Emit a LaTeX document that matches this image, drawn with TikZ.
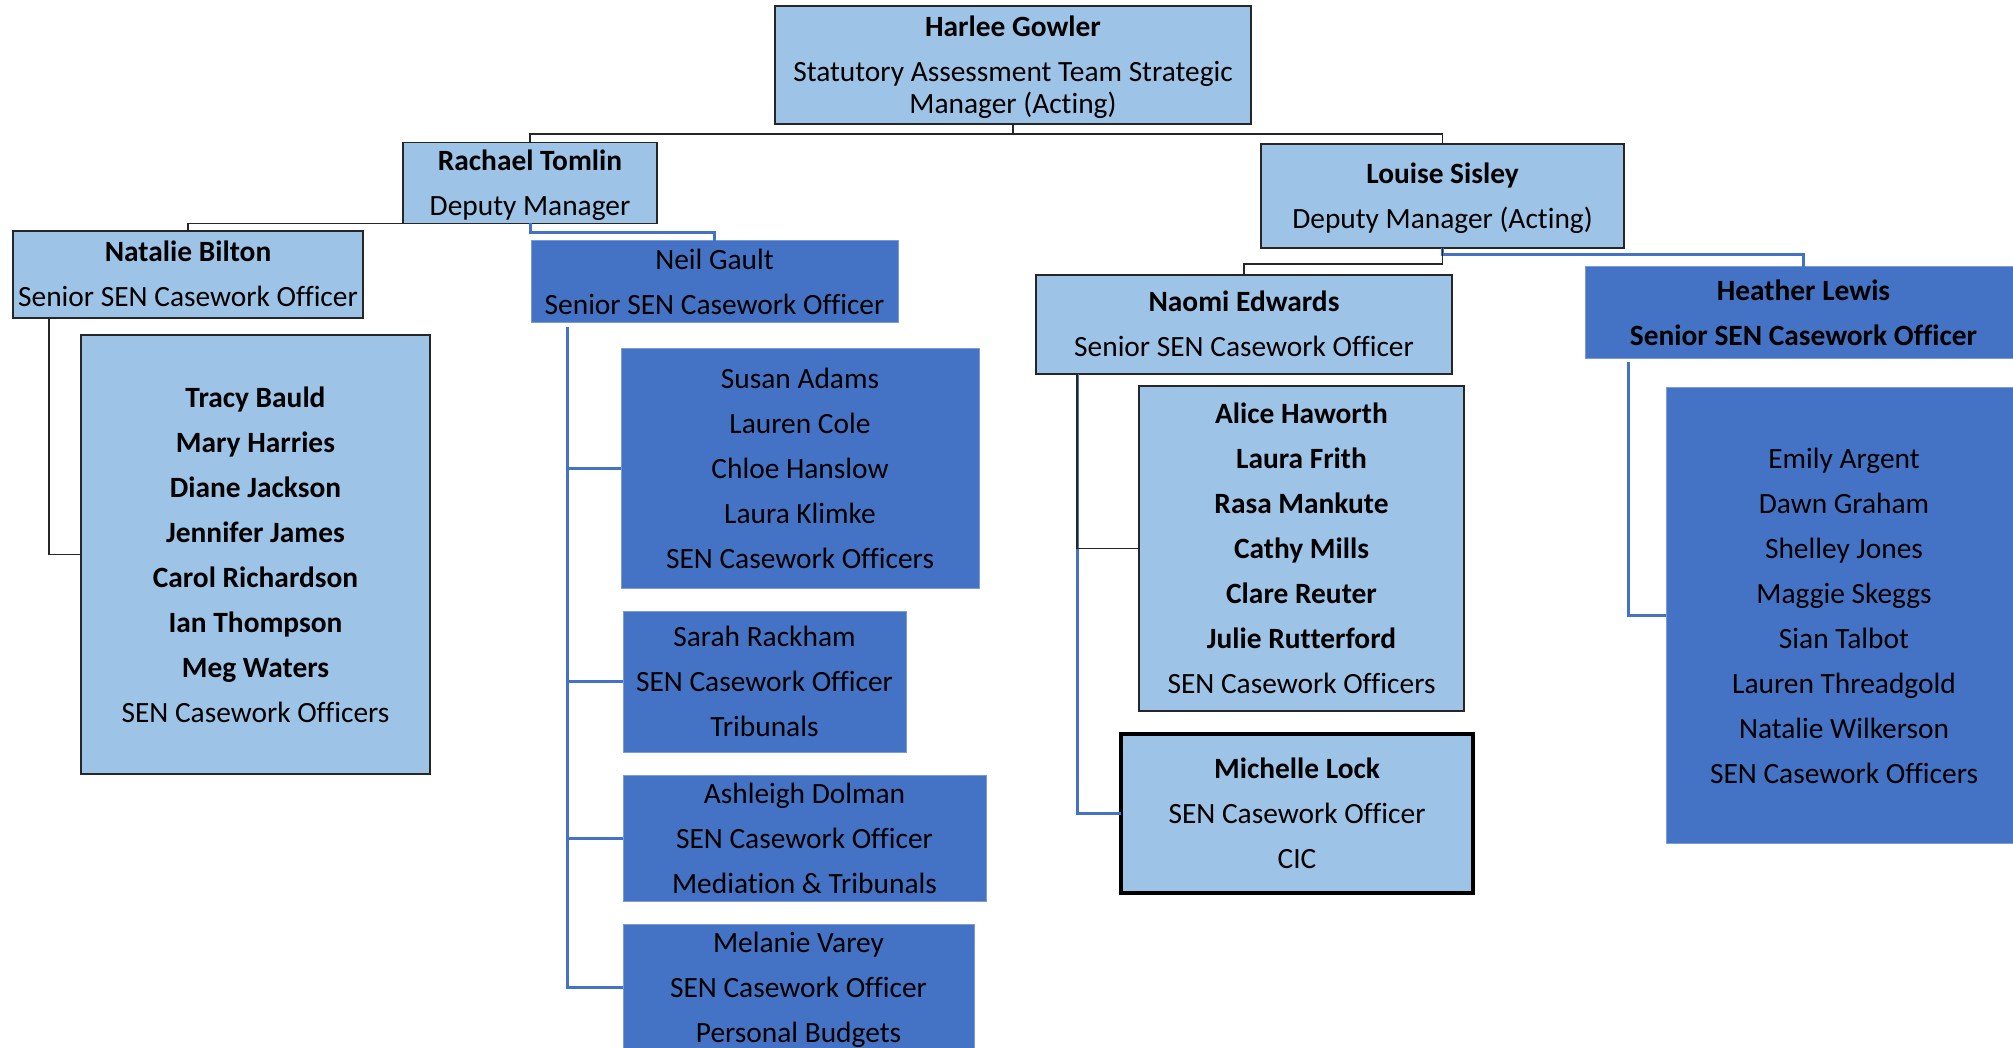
\documentclass[tikz,border=0pt]{standalone}
\usepackage{fontspec}
\setmainfont[Ligatures=NoCommon]{Carlito}
\usetikzlibrary{calc}
\definecolor{lightbox}{HTML}{9DC3E6}
\definecolor{darkbox}{HTML}{4472C4}
\definecolor{darkedge}{HTML}{7A9BD8}
\definecolor{lineblack}{HTML}{262626}
\newcommand{\ls}{\rule[-8pt]{0pt}{36pt}}
\tikzset{
  every node/.style={inner sep=0pt, outer sep=0pt, align=center, font=\fontsize{29.4}{45}\selectfont},
  lightnode/.style={fill=lightbox, draw=lineblack, line width=1.6pt},
  darknode/.style={fill=darkbox, draw=darkedge, line width=1pt},
  thicknode/.style={fill=lightbox, draw=black, line width=3.5pt},
  blackconn/.style={draw=lineblack, line width=1.8pt},
  blueconn/.style={draw=darkbox, line width=3pt},
}
\begin{document}
\begin{tikzpicture}[x=1pt, y=-1pt]
\clip (0,0) rectangle (2013,1048);
\fill[white] (0,0) rectangle (2013,1048);

% top level
\node[lightnode, minimum width=476, minimum height=118] (harlee) at (1013,65)
  {\ls\textbf{Harlee Gowler}\\\ls Statutory Assessment Team Strategic\\[-13pt]\ls Manager (Acting)};

% deputies
\node[lightnode, minimum width=254, minimum height=74] (rachael) at (530,183)
  {\ls\textbf{Rachael Tomlin}\\\ls Deputy Manager};
\node[lightnode, minimum width=363, minimum height=104] (louise) at (1442.5,196)
  {\ls\textbf{Louise Sisley}\\\ls Deputy Manager (Acting)};

% seniors
\node[lightnode, minimum width=350, minimum height=87] (natalie) at (188,274.5)
  {\ls\textbf{Natalie Bilton}\\\ls Senior SEN Casework Officer};
\node[darknode, minimum width=367, minimum height=82] (neil) at (714.5,282)
  {\ls Neil Gault\\\ls Senior SEN Casework Officer};
\node[lightnode, minimum width=416, minimum height=99] (naomi) at (1244,324.5)
  {\ls\textbf{Naomi Edwards}\\\ls Senior SEN Casework Officer};
\node[darknode, minimum width=437, minimum height=92] (heather) at (1803.5,313)
  {\ls\textbf{Heather Lewis}\\\ls\textbf{Senior SEN Casework Officer}};

% teams
\node[lightnode, minimum width=349, minimum height=439] (natteam) at (255.5,554.5)
  {\ls\textbf{Tracy Bauld}\\\ls\textbf{Mary Harries}\\\ls\textbf{Diane Jackson}\\\ls\textbf{Jennifer James}\\\ls\textbf{Carol Richardson}\\\ls\textbf{Ian Thompson}\\\ls\textbf{Meg Waters}\\\ls SEN Casework Officers};

\node[darknode, minimum width=358, minimum height=239] (susan) at (800,468.5)
  {\ls Susan Adams\\\ls Lauren Cole\\\ls Chloe Hanslow\\\ls Laura Klimke\\\ls SEN Casework Officers};
\node[darknode, minimum width=283, minimum height=141] (sarah) at (764.5,681.5)
  {\ls Sarah Rackham\\\ls SEN Casework Officer\\\ls Tribunals};
\node[darknode, minimum width=363, minimum height=124] (ashleigh) at (804.5,838)
  {\ls Ashleigh Dolman\\\ls SEN Casework Officer\\\ls Mediation \& Tribunals};
\node[darknode, minimum width=351, minimum height=127] (melanie) at (798.5,987.5)
  {\ls Melanie Varey\\\ls SEN Casework Officer\\\ls Personal Budgets};

\node[lightnode, minimum width=325, minimum height=325] (naoteam) at (1301.5,548.5)
  {\ls\textbf{Alice Haworth}\\\ls\textbf{Laura Frith}\\\ls\textbf{Rasa Mankute}\\\ls\textbf{Cathy Mills}\\\ls\textbf{Clare Reuter}\\\ls\textbf{Julie Rutterford}\\\ls SEN Casework Officers};
\node[thicknode, minimum width=352, minimum height=159] (michelle) at (1297,813.5)
  {\ls\textbf{Michelle Lock}\\\ls SEN Casework Officer\\\ls CIC};

\node[darknode, minimum width=356, minimum height=455] (heateam) at (1844,615.5)
  {\ls Emily Argent\\\ls Dawn Graham\\\ls Shelley Jones\\\ls Maggie Skeggs\\\ls Sian Talbot\\\ls Lauren Threadgold\\\ls Natalie Wilkerson\\\ls SEN Casework Officers};

% connectors
\draw[blackconn] (harlee.south) -- ++(0,10) -| (rachael.north);
\draw[blackconn] (harlee.south) -- ++(0,10) -| (louise.north);
\draw[blackconn] (rachael.south) -| (natalie.north);
\draw[blueconn] (rachael.south) -- ++(0,9) -| (neil.north);
\draw[blackconn] ($(natalie.south west)+(36,0)$) |- (natteam.west);

\draw[blueconn] ($(neil.south west)+(36,4)$) |- (melanie.west);
\draw[blueconn] ($(neil.south west)+(36,4)$) |- (susan.west);
\draw[blueconn] ($(neil.south west)+(36,4)$) |- (sarah.west);
\draw[blueconn] ($(neil.south west)+(36,4)$) |- (ashleigh.west);

\draw[blueconn] (louise.south) -- ++(0,7) -| (heather.north);
\draw[blackconn] (louise.south) -- ++(0,16) -| (naomi.north);

\draw[blueconn] ($(naomi.south west)+(41,0)$) |- (michelle.west);
\draw[blackconn] ($(naomi.south west)+(41,0)$) |- (naoteam.west);

\draw[blueconn] ($(heather.south west)+(43,3)$) |- (heateam.west);
\end{tikzpicture}
\end{document}
